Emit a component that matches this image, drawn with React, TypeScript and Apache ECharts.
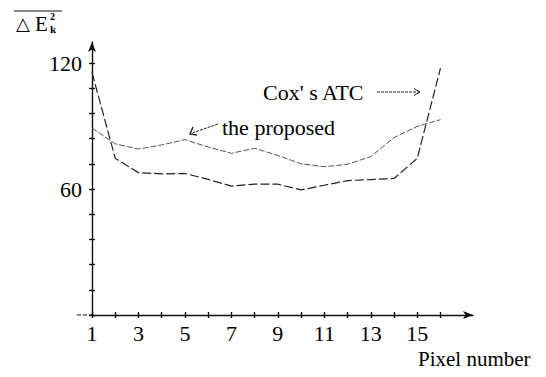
import React, { useEffect, useRef } from "react";
import * as echarts from "echarts";

const pixelNumbers = [1, 2, 3, 4, 5, 6, 7, 8, 9, 10, 11, 12, 13, 14, 15, 16];
const coxATC = [115.5, 74.6, 67.8, 67.2, 67.4, 64.6, 61.4, 62.3, 62.3, 59.6, 61.8, 64, 64.5, 65, 74.6, 117.5];
const proposed = [89, 81.5, 79, 81, 83.5, 80, 77, 79.4, 76, 72, 70.6, 71.8, 75.4, 84.5, 89.8, 93];
const xTickValues = [1, 2, 3, 4, 5, 6, 7, 8, 9, 10, 11, 12, 13, 14, 15, 16];
const xLabelValues = [1, 3, 5, 7, 9, 11, 13, 15];
const yTickValues = [0, 12, 24, 36, 48, 60, 72, 84, 96, 108, 120];
const yLabelValues = [60, 120];

const FONT = "'Liberation Serif', 'DejaVu Serif', serif";

export default function App() {
  const ref = useRef<HTMLDivElement>(null);
  useEffect(() => {
    if (!ref.current) return;
    const chart = echarts.init(ref.current, null, { renderer: "svg" });
    const axisLineStyle = { color: "#111", width: 1.4 };
    chart.setOption({
      animation: false,
      backgroundColor: "#fff",
      grid: { left: 92, right: 73, top: 42, bottom: 62 },
      xAxis: [
        {
          type: "value",
          min: 1,
          max: 17.4,
          axisLine: { show: true, lineStyle: axisLineStyle, symbol: ["none", "arrow"], symbolSize: [6, 10] },
          axisTick: { show: true, length: 3, customValues: xTickValues, lineStyle: { color: "#111", width: 1.4 } },
          axisLabel: {
            customValues: xLabelValues,
            color: "#000",
            fontFamily: FONT,
            fontSize: 22,
            margin: 7,
          },
          splitLine: { show: false },
        },
        {
          type: "value",
          min: 1,
          max: 17.4,
          position: "bottom",
          axisLine: { show: false },
          axisTick: { show: true, inside: true, length: 3, customValues: xTickValues, lineStyle: { color: "#111", width: 1.4 } },
          axisLabel: { show: false },
          splitLine: { show: false },
        },
      ],
      yAxis: [
        {
          type: "value",
          min: 0,
          max: 130,
          axisLine: { show: true, lineStyle: axisLineStyle, symbol: ["none", "arrow"], symbolSize: [6, 10] },
          axisTick: { show: true, length: 3, customValues: yTickValues, lineStyle: { color: "#111", width: 1.4 } },
          axisLabel: {
            customValues: yLabelValues,
            color: "#000",
            fontFamily: FONT,
            fontSize: 22,
            margin: 10,
          },
          splitLine: { show: false },
        },
        {
          type: "value",
          min: 0,
          max: 130,
          position: "left",
          axisLine: { show: false },
          axisTick: { show: true, inside: true, length: 3, customValues: yTickValues, lineStyle: { color: "#111", width: 1.4 } },
          axisLabel: { show: false },
          splitLine: { show: false },
        },
      ],
      series: [
        {
          name: "Cox's ATC",
          type: "line",
          data: pixelNumbers.map((p, i) => [p, coxATC[i]]),
          showSymbol: false,
          lineStyle: { color: "#222", width: 1.2, type: [9, 3] },
        },
        {
          name: "the proposed",
          type: "line",
          data: pixelNumbers.map((p, i) => [p, proposed[i]]),
          showSymbol: false,
          lineStyle: { color: "#555", width: 1, type: [6, 2] },
        },
      ],
      graphic: [
        { type: "line", shape: { x1: 14, y1: 11, x2: 62, y2: 11 }, style: { stroke: "#111", lineWidth: 1.2 } },
        { type: "text", x: 16, y: 24, style: { text: "△", font: `18px ${FONT}`, fill: "#000", verticalAlign: "middle" } },
        { type: "text", x: 35, y: 24, style: { text: "E", font: `21px ${FONT}`, fill: "#000", verticalAlign: "middle" } },
        { type: "text", x: 50, y: 16, style: { text: "2", font: `bold 10px ${FONT}`, fill: "#000", verticalAlign: "middle" } },
        { type: "text", x: 50, y: 29, style: { text: "k", font: `bold 11px ${FONT}`, fill: "#000", verticalAlign: "middle" } },
        { type: "line", shape: { x1: 77, y1: 315, x2: 92, y2: 315 }, style: { stroke: "#111", lineWidth: 1.2, lineDash: [4, 2] } },
        { type: "text", x: 263, y: 92, style: { text: "Cox' s ATC", font: `22px ${FONT}`, fill: "#000", verticalAlign: "middle" } },
        { type: "line", shape: { x1: 377, y1: 92, x2: 419, y2: 92 }, style: { stroke: "#222", lineWidth: 1, lineDash: [3, 1] } },
        { type: "polyline", shape: { points: [[414, 88.5], [420, 92], [414, 95.5]] }, style: { stroke: "#222", lineWidth: 1, fill: "none" } },
        { type: "text", x: 222, y: 127, style: { text: "the proposed", font: `22px ${FONT}`, fill: "#000", verticalAlign: "middle" } },
        { type: "line", shape: { x1: 218, y1: 124, x2: 192, y2: 133 }, style: { stroke: "#222", lineWidth: 1, lineDash: [3, 1] } },
        { type: "polyline", shape: { points: [[193, 127], [190, 134], [197, 135]] }, style: { stroke: "#222", lineWidth: 1.4, fill: "none" } },
        { type: "text", x: 418, y: 359, style: { text: "Pixel number", font: `21px ${FONT}`, fill: "#000", verticalAlign: "middle" } },
      ],
    });
    return () => chart.dispose();
  }, []);
  return <div ref={ref} style={{ width: 546, height: 377, margin: -8 }} />;
}
